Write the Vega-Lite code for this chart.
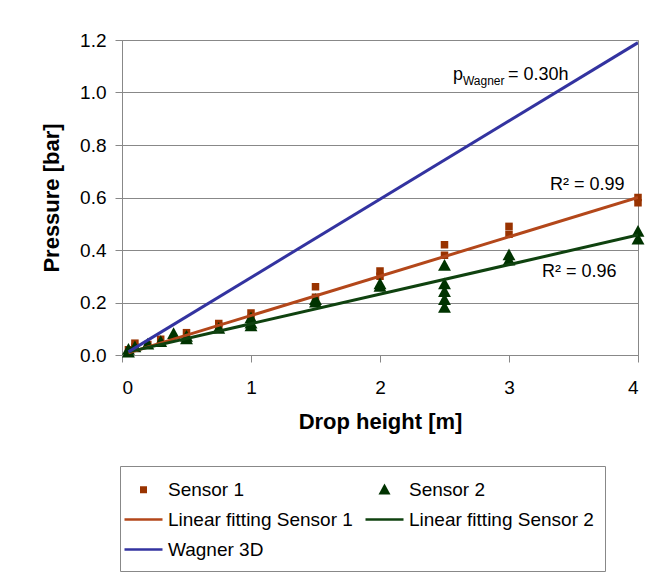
{
  "$schema": "https://vega.github.io/schema/vega-lite/v6.json",
  "width": 516,
  "height": 315,
  "autosize": {"type": "none"},
  "padding": {"left": 122, "top": 40, "right": 25, "bottom": 222},
  "background": "white",
  "config": {
    "font": "Liberation Sans",
    "view": {"stroke": "#888888", "strokeWidth": 1},
    "axis": {
      "labelFont": "Liberation Sans",
      "labelFontSize": 19,
      "labelColor": "black",
      "titleFont": "Liberation Sans",
      "titleFontSize": 22,
      "titleFontWeight": "bold",
      "titleColor": "black",
      "domainColor": "#888888",
      "tickColor": "#888888",
      "tickSize": 7,
      "gridColor": "#888888",
      "gridOpacity": 1
    },
    "legend": {
      "orient": "none",
      "legendX": -2,
      "legendY": 426,
      "direction": "horizontal",
      "columns": 2,
      "columnPadding": 12,
      "rowPadding": 7,
      "padding": 11,
      "strokeColor": "#888888",
      "fillColor": "white",
      "symbolSize": 625,
      "symbolStrokeWidth": 0,
      "symbolOpacity": 1,
      "labelFont": "Liberation Sans",
      "labelFontSize": 19,
      "labelColor": "black",
      "labelOffset": 12,
      "labelLimit": 400
    }
  },
  "datasets": {
    "obs": [
      {"series": "Sensor 1", "h": 0.05, "p": 0.02},
      {"series": "Sensor 1", "h": 0.1, "p": 0.03},
      {"series": "Sensor 1", "h": 0.1, "p": 0.045},
      {"series": "Sensor 1", "h": 0.2, "p": 0.04},
      {"series": "Sensor 1", "h": 0.3, "p": 0.06},
      {"series": "Sensor 1", "h": 0.5, "p": 0.085},
      {"series": "Sensor 1", "h": 0.75, "p": 0.11},
      {"series": "Sensor 1", "h": 0.75, "p": 0.12},
      {"series": "Sensor 1", "h": 1, "p": 0.14},
      {"series": "Sensor 1", "h": 1, "p": 0.16},
      {"series": "Sensor 1", "h": 1.5, "p": 0.22},
      {"series": "Sensor 1", "h": 1.5, "p": 0.26},
      {"series": "Sensor 1", "h": 2, "p": 0.30},
      {"series": "Sensor 1", "h": 2, "p": 0.32},
      {"series": "Sensor 1", "h": 2.5, "p": 0.38},
      {"series": "Sensor 1", "h": 2.5, "p": 0.42},
      {"series": "Sensor 1", "h": 3, "p": 0.46},
      {"series": "Sensor 1", "h": 3, "p": 0.49},
      {"series": "Sensor 1", "h": 4, "p": 0.58},
      {"series": "Sensor 1", "h": 4, "p": 0.60},
      {"series": "Sensor 2", "h": 0.05, "p": 0.01},
      {"series": "Sensor 2", "h": 0.05, "p": 0.02},
      {"series": "Sensor 2", "h": 0.1, "p": 0.03},
      {"series": "Sensor 2", "h": 0.2, "p": 0.04},
      {"series": "Sensor 2", "h": 0.3, "p": 0.05},
      {"series": "Sensor 2", "h": 0.4, "p": 0.08},
      {"series": "Sensor 2", "h": 0.5, "p": 0.06},
      {"series": "Sensor 2", "h": 0.5, "p": 0.07},
      {"series": "Sensor 2", "h": 0.75, "p": 0.10},
      {"series": "Sensor 2", "h": 1, "p": 0.11},
      {"series": "Sensor 2", "h": 1, "p": 0.12},
      {"series": "Sensor 2", "h": 1, "p": 0.14},
      {"series": "Sensor 2", "h": 1.5, "p": 0.20},
      {"series": "Sensor 2", "h": 1.5, "p": 0.21},
      {"series": "Sensor 2", "h": 2, "p": 0.26},
      {"series": "Sensor 2", "h": 2, "p": 0.27},
      {"series": "Sensor 2", "h": 2.5, "p": 0.34},
      {"series": "Sensor 2", "h": 2.5, "p": 0.27},
      {"series": "Sensor 2", "h": 2.5, "p": 0.24},
      {"series": "Sensor 2", "h": 2.5, "p": 0.21},
      {"series": "Sensor 2", "h": 2.5, "p": 0.18},
      {"series": "Sensor 2", "h": 3, "p": 0.36},
      {"series": "Sensor 2", "h": 3, "p": 0.38},
      {"series": "Sensor 2", "h": 4, "p": 0.44},
      {"series": "Sensor 2", "h": 4, "p": 0.47}
    ],
    "fits": [
      {"series": "Linear fitting Sensor 1", "h": 0.05, "p": 0.008},
      {"series": "Linear fitting Sensor 1", "h": 4, "p": 0.60},
      {"series": "Linear fitting Sensor 2", "h": 0.05, "p": 0.012},
      {"series": "Linear fitting Sensor 2", "h": 4, "p": 0.457},
      {"series": "Wagner 3D", "h": 0.05, "p": 0.012},
      {"series": "Wagner 3D", "h": 4, "p": 1.19}
    ],
    "notes": [
      {"kind": "main", "h": 2.566, "p": 1.048, "label": "p"},
      {"kind": "sub", "h": 2.643, "p": 1.029, "label": "Wagner"},
      {"kind": "main", "h": 2.992, "p": 1.048, "label": "= 0.30h"},
      {"kind": "main", "h": 3.318, "p": 0.629, "label": "R² = 0.99"},
      {"kind": "main", "h": 3.256, "p": 0.297, "label": "R² = 0.96"}
    ]
  },
  "encoding": {
    "x": {
      "field": "h", "type": "quantitative",
      "scale": {"domain": [0, 4], "nice": false, "zero": false},
      "axis": {"title": "Drop height [m]", "values": [0, 1, 2, 3, 4], "grid": false, "labelPadding": 16, "titlePadding": 14, "format": "d"}
    },
    "y": {
      "field": "p", "type": "quantitative",
      "scale": {"domain": [0, 1.2], "nice": false},
      "axis": {"title": "Pressure [bar]", "values": [0, 0.2, 0.4, 0.6, 0.8, 1.0, 1.2], "format": ".1f", "grid": true, "labelPadding": 9, "titlePadding": 16}
    }
  },
  "layer": [
    {
      "data": {"name": "obs"},
      "mark": {"type": "point", "filled": true, "size": 720, "opacity": 1, "strokeWidth": 0},
      "encoding": {
        "color": {
          "field": "series", "type": "nominal",
          "scale": {
            "domain": ["Sensor 1", "Sensor 2", "Linear fitting Sensor 1", "Linear fitting Sensor 2", "Wagner 3D"],
            "range": ["#993300", "#003300", "#B3471A", "#0F420F", "#3333A0"]
          },
          "legend": {"title": null}
        },
        "shape": {
          "field": "series", "type": "nominal",
          "scale": {
            "domain": ["Sensor 1", "Sensor 2", "Linear fitting Sensor 1", "Linear fitting Sensor 2", "Wagner 3D"],
            "range": ["M-0.28,-0.28H0.28V0.28H-0.28Z", "M0,-0.5L0.48,0.38L-0.48,0.38Z", "M-1.52,-0.1H1.52V0.1H-1.52Z", "M-1.52,-0.1H1.52V0.1H-1.52Z", "M-1.52,-0.1H1.52V0.1H-1.52Z"]
          },
          "legend": {"title": null}
        }
      }
    },
    {
      "data": {"name": "fits"},
      "mark": {"type": "line", "strokeWidth": 3, "clip": true},
      "encoding": {
        "color": {"field": "series", "type": "nominal", "legend": {"title": null}},
        "detail": {"field": "series"}
      }
    },
    {
      "data": {"name": "notes"},
      "transform": [{"filter": "datum.kind === 'main'"}],
      "mark": {"type": "text", "align": "left", "baseline": "alphabetic", "fontSize": 18, "font": "Liberation Sans", "color": "black"},
      "encoding": {
        "text": {"field": "label"}
      }
    },
    {
      "data": {"name": "notes"},
      "transform": [{"filter": "datum.kind === 'sub'"}],
      "mark": {"type": "text", "align": "left", "baseline": "alphabetic", "fontSize": 12, "font": "Liberation Sans", "color": "black"},
      "encoding": {
        "text": {"field": "label"}
      }
    }
  ]
}
